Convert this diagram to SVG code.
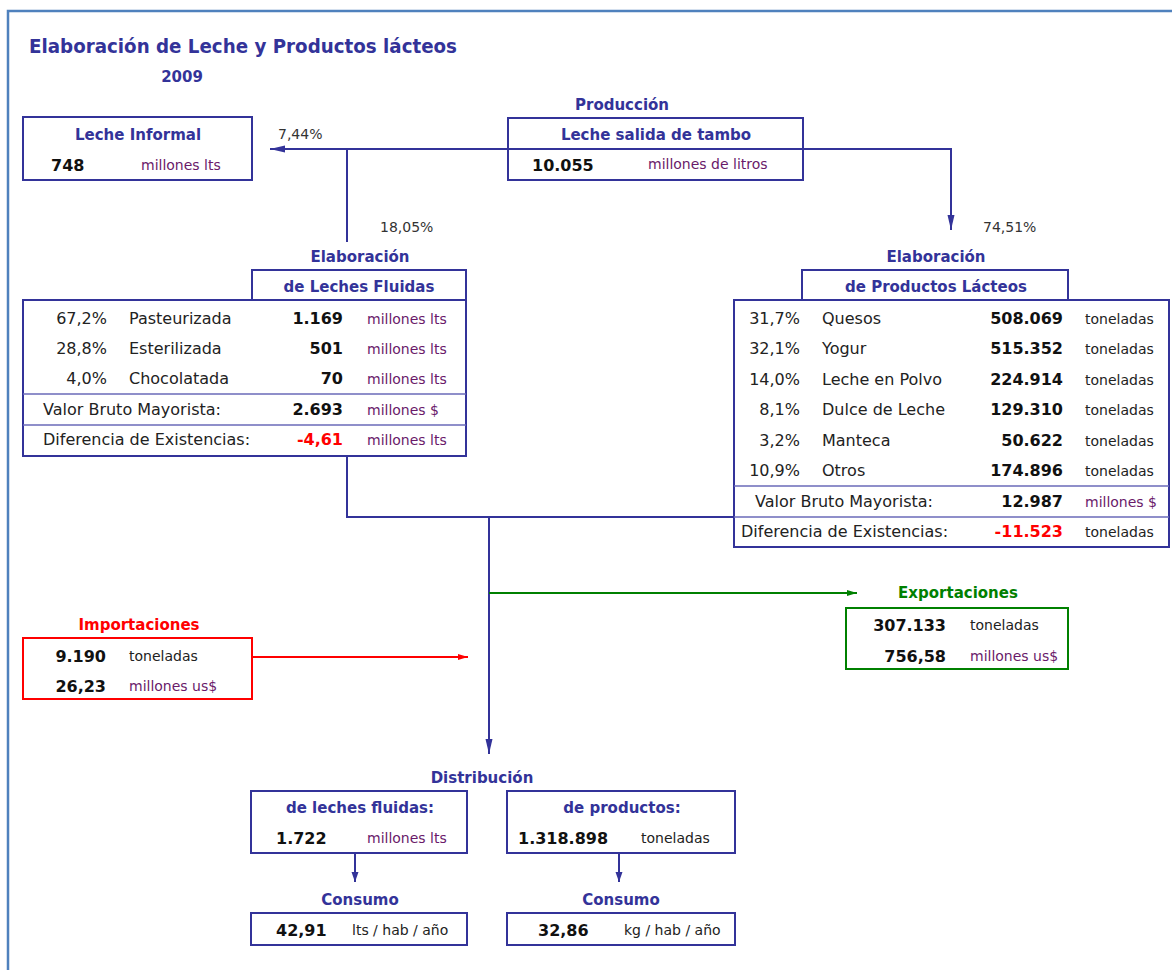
<svg xmlns="http://www.w3.org/2000/svg" width="1172" height="970" viewBox="0 0 1172 970">
<style>
text{font-family:"DejaVu Sans",Verdana,sans-serif;}
.h{font-weight:bold;font-size:15px;fill:#333399;text-anchor:middle;}
.t{font-size:16px;fill:#222;}
.p{font-size:16px;fill:#222;text-anchor:end;}
.b{font-size:16px;font-weight:bold;fill:#111;}
.be{font-size:16px;font-weight:bold;fill:#111;text-anchor:end;}
.neg{font-size:16px;font-weight:bold;fill:#ff0000;text-anchor:end;}
.u{font-size:14px;fill:#6a1a6a;}
.k{font-size:14px;fill:#222;}
.pc{font-size:14px;fill:#333;}
.box{fill:#fff;stroke:#333399;stroke-width:2;}
.div{stroke:#6a6ab8;stroke-width:1.5;}
.ln{fill:none;stroke:#333399;stroke-width:2;}
</style>
<defs>
<marker id="ab" markerUnits="userSpaceOnUse" markerWidth="15" markerHeight="8" refX="15" refY="4" orient="auto"><path d="M0,0.5 L15,4 L0,7.5 z" fill="#333399"/></marker>
<marker id="as" markerUnits="userSpaceOnUse" markerWidth="10" markerHeight="8" refX="10" refY="4" orient="auto"><path d="M0,0.5 L10,4 L0,7.5 z" fill="#333399"/></marker>
<marker id="ar" markerUnits="userSpaceOnUse" markerWidth="10" markerHeight="8" refX="10" refY="4" orient="auto"><path d="M0,1 L10,4 L0,7 z" fill="#ff0000"/></marker>
<marker id="ag" markerUnits="userSpaceOnUse" markerWidth="10" markerHeight="8" refX="10" refY="4" orient="auto"><path d="M0,1 L10,4 L0,7 z" fill="#008000"/></marker>
</defs>
<rect x="0" y="0" width="1172" height="970" fill="#fff"/>
<path d="M8,980 L8,11 L1180,11" fill="none" stroke="#4f81bd" stroke-width="2.5"/>

<g id="title">
<text x="29" y="53" style="font-weight:bold;font-size:19px;fill:#333399" textLength="428" lengthAdjust="spacingAndGlyphs">Elaboración de Leche y Productos lácteos</text>
<text x="182" y="82" class="h">2009</text>
</g>

<g id="connectors">
<path class="ln" d="M508,149 L270,149" marker-end="url(#ab)"/>
<path class="ln" d="M347,149 L347,242"/>
<path class="ln" d="M803,149 L951,149 L951,230" marker-end="url(#ab)"/>
<path class="ln" d="M347,456 L347,517 L734,517"/>
<path class="ln" d="M489,517 L489,754" marker-end="url(#ab)"/>
<path d="M489,593 L857,593" fill="none" stroke="#008000" stroke-width="2" marker-end="url(#ag)"/>
<path d="M252,657 L468,657" fill="none" stroke="#ff0000" stroke-width="2" marker-end="url(#ar)"/>
<path class="ln" d="M355,853 L355,882" marker-end="url(#as)"/>
<path class="ln" d="M619,853 L619,882" marker-end="url(#as)"/>
<text x="278" y="139" class="pc">7,44%</text>
<text x="380" y="232" class="pc">18,05%</text>
<text x="983" y="232" class="pc">74,51%</text>
</g>

<g id="leche-informal">
<rect class="box" x="23" y="117" width="229" height="63"/>
<text x="138" y="140" class="h">Leche Informal</text>
<text x="51" y="171" class="b">748</text>
<text x="141" y="170" class="u">millones lts</text>
</g>

<g id="produccion">
<text x="622" y="110" class="h">Producción</text>
<rect class="box" x="508" y="118" width="295" height="62"/>
<line x1="508" y1="149" x2="803" y2="149" stroke="#333399" stroke-width="2"/>
<text x="656" y="140" class="h">Leche salida de tambo</text>
<text x="532" y="171" class="b">10.055</text>
<text x="648" y="169" class="u">millones de litros</text>
</g>

<g id="leches-fluidas">
<text x="360" y="262" class="h">Elaboración</text>
<rect class="box" x="252" y="270" width="214" height="30"/>
<text x="359" y="292" class="h">de Leches Fluidas</text>
<rect class="box" x="23" y="300" width="443" height="156"/>
<line class="div" x1="23" y1="394" x2="466" y2="394"/>
<line class="div" x1="23" y1="425" x2="466" y2="425"/>
<text x="107" y="324" class="p">67,2%</text><text x="129" y="324" class="t">Pasteurizada</text><text x="343" y="324" class="be">1.169</text><text x="367" y="324" class="u">millones lts</text>
<text x="107" y="354" class="p">28,8%</text><text x="129" y="354" class="t">Esterilizada</text><text x="343" y="354" class="be">501</text><text x="367" y="354" class="u">millones lts</text>
<text x="107" y="384" class="p">4,0%</text><text x="129" y="384" class="t">Chocolatada</text><text x="343" y="384" class="be">70</text><text x="367" y="384" class="u">millones lts</text>
<text x="43" y="415" class="t">Valor Bruto Mayorista:</text><text x="343" y="415" class="be">2.693</text><text x="367" y="415" class="u">millones $</text>
<text x="43" y="445" class="t">Diferencia de Existencias:</text><text x="343" y="445" class="neg">-4,61</text><text x="367" y="445" class="u">millones lts</text>
</g>

<g id="productos-lacteos">
<text x="936" y="262" class="h">Elaboración</text>
<rect class="box" x="802" y="270" width="266" height="30"/>
<text x="936" y="292" class="h">de Productos Lácteos</text>
<rect class="box" x="734" y="300" width="435" height="247"/>
<line class="div" x1="734" y1="486" x2="1169" y2="486"/>
<line class="div" x1="734" y1="517" x2="1169" y2="517"/>
<text x="800" y="324" class="p">31,7%</text><text x="822" y="324" class="t">Quesos</text><text x="1063" y="324" class="be">508.069</text><text x="1085" y="324" class="k">toneladas</text>
<text x="800" y="354" class="p">32,1%</text><text x="822" y="354" class="t">Yogur</text><text x="1063" y="354" class="be">515.352</text><text x="1085" y="354" class="k">toneladas</text>
<text x="800" y="385" class="p">14,0%</text><text x="822" y="385" class="t">Leche en Polvo</text><text x="1063" y="385" class="be">224.914</text><text x="1085" y="385" class="k">toneladas</text>
<text x="800" y="415" class="p">8,1%</text><text x="822" y="415" class="t">Dulce de Leche</text><text x="1063" y="415" class="be">129.310</text><text x="1085" y="415" class="k">toneladas</text>
<text x="800" y="446" class="p">3,2%</text><text x="822" y="446" class="t">Manteca</text><text x="1063" y="446" class="be">50.622</text><text x="1085" y="446" class="k">toneladas</text>
<text x="800" y="476" class="p">10,9%</text><text x="822" y="476" class="t">Otros</text><text x="1063" y="476" class="be">174.896</text><text x="1085" y="476" class="k">toneladas</text>
<text x="755" y="507" class="t">Valor Bruto Mayorista:</text><text x="1063" y="507" class="be">12.987</text><text x="1085" y="507" class="u">millones $</text>
<text x="741" y="537" class="t">Diferencia de Existencias:</text><text x="1063" y="537" class="neg">-11.523</text><text x="1085" y="537" class="k">toneladas</text>
</g>

<g id="exportaciones">
<text x="958" y="598" class="h" style="fill:#008000">Exportaciones</text>
<rect x="846" y="608" width="222" height="61" fill="#fff" stroke="#008000" stroke-width="2"/>
<text x="946" y="631" class="be">307.133</text><text x="970" y="630" class="k">toneladas</text>
<text x="946" y="662" class="be">756,58</text><text x="970" y="661" class="u">millones us$</text>
</g>

<g id="importaciones">
<text x="139" y="630" class="h" style="fill:#ff0000">Importaciones</text>
<rect x="23" y="638" width="229" height="61" fill="#fff" stroke="#ff0000" stroke-width="2"/>
<text x="106" y="662" class="be">9.190</text><text x="129" y="661" class="k">toneladas</text>
<text x="106" y="692" class="be">26,23</text><text x="129" y="691" class="u">millones us$</text>
</g>

<g id="distribucion">
<text x="482" y="783" class="h">Distribución</text>
</g>

<g id="dist-fluidas">
<rect class="box" x="251" y="791" width="216" height="62"/>
<text x="360" y="813" class="h">de leches fluidas:</text>
<text x="276" y="844" class="b">1.722</text>
<text x="367" y="843" class="u">millones lts</text>
</g>

<g id="dist-productos">
<rect class="box" x="507" y="791" width="228" height="62"/>
<text x="622" y="813" class="h">de productos:</text>
<text x="518" y="844" class="b">1.318.898</text>
<text x="641" y="843" class="k">toneladas</text>
</g>

<g id="consumo-fluidas">
<text x="360" y="905" class="h">Consumo</text>
<rect class="box" x="251" y="913" width="216" height="32"/>
<text x="276" y="936" class="b">42,91</text>
<text x="352" y="935" class="k">lts / hab / año</text>
</g>

<g id="consumo-productos">
<text x="621" y="905" class="h">Consumo</text>
<rect class="box" x="507" y="913" width="228" height="32"/>
<text x="538" y="936" class="b">32,86</text>
<text x="624" y="935" class="k">kg / hab / año</text>
</g>
</svg>
